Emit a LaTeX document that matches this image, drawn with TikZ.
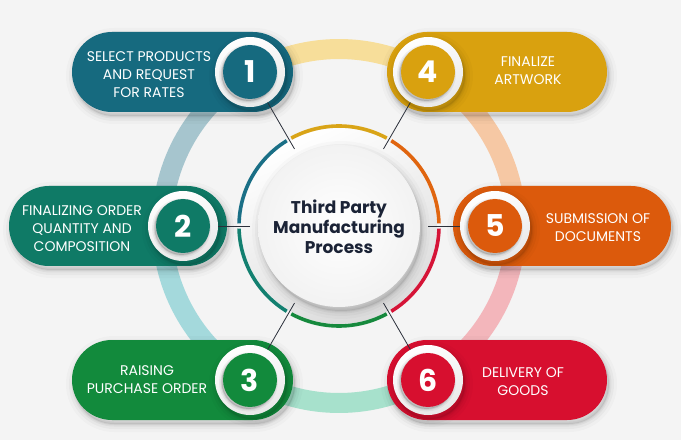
\documentclass[tikz,border=0pt]{standalone}
\usepackage{fontspec}
\setmainfont{Poppins}
\usetikzlibrary{shapes.misc}
\definecolor{bg}{HTML}{F4F4F4}
\definecolor{cA}{HTML}{166A7F}
\definecolor{cB}{HTML}{0F7A66}
\definecolor{cC}{HTML}{128A3C}
\definecolor{cD}{HTML}{D9A10F}
\definecolor{cE}{HTML}{DC5A0C}
\definecolor{cF}{HTML}{D70F2F}
\definecolor{rA}{HTML}{1A6F86}
\definecolor{rB}{HTML}{138070}
\definecolor{rC}{HTML}{16893D}
\definecolor{rD}{HTML}{D9A417}
\definecolor{rE}{HTML}{E0650F}
\definecolor{rF}{HTML}{D51437}
\definecolor{pYel}{HTML}{F7DE9A}
\definecolor{pPch}{HTML}{F6C8A4}
\definecolor{pPnk}{HTML}{F3B6BB}
\definecolor{pMnt}{HTML}{A7E1CC}
\definecolor{pCyn}{HTML}{A4D9DC}
\definecolor{pBlu}{HTML}{A6C5CE}
\definecolor{ink}{HTML}{1B2336}
\definecolor{lin}{HTML}{2A2F3A}
\tikzset{
  softshadow/.style={
    preaction={draw=black,draw opacity=.02,line width=16pt,transform canvas={xshift=2pt,yshift=-4pt}},
    preaction={draw=black,draw opacity=.03,line width=10pt,transform canvas={xshift=2pt,yshift=-4pt}},
    preaction={draw=black,draw opacity=.04,line width=5pt,transform canvas={xshift=2pt,yshift=-4pt}},
    preaction={fill=black,fill opacity=.08,draw=black,draw opacity=.05,line width=2pt,transform canvas={xshift=2pt,yshift=-4pt}}},
  smallshadow/.style={
    preaction={draw=black,draw opacity=.05,line width=5pt,transform canvas={xshift=-1.5pt,yshift=-2pt}},
    preaction={fill=black,fill opacity=.15,draw=black,draw opacity=.08,line width=2pt,transform canvas={xshift=-1.5pt,yshift=-2pt}}},
  pill/.style={rounded rectangle, minimum height=80pt, inner sep=0pt, softshadow},
  whitering/.style={circle, minimum size=70pt, inner sep=0pt, softshadow, top color=white, bottom color=gray!18, shading angle=20},
  numdisc/.style={circle, minimum size=54pt, inner sep=0pt, smallshadow, text=white, font=\bfseries\fontsize{30}{30}\selectfont},
  pilltext/.style={text=white, align=center, font=\fontsize{14}{18}\selectfont},
  ringseg/.style={line width=20pt},
  colseg/.style={line width=3.6pt},
  conn/.style={draw=lin, line width=0.8pt}
}
\begin{document}
\begin{tikzpicture}[x=1pt,y=1pt]
\useasboundingbox (0,0) rectangle (681,440);
\fill[bg] (0,0) rectangle (681,440);
\coordinate (c) at (339,214);
% pastel outer ring
\foreach \a/\col in {60/pYel,0/pPch,-60/pPnk,-120/pMnt,-180/pCyn,-240/pBlu}
  \draw[ringseg,\col] (c) ++(\a:177) arc[start angle=\a, end angle=\a+60.5, radius=177];
% center backdrop
\shade[top color=white, bottom color=gray!28, shading angle=25] (c) circle (98);
% coloured ring segments
\foreach \a/\col in {61.5/rD,1.5/rE,-58.5/rF,-118.5/rC,-178.5/rB,-238.5/rA}
  \draw[colseg,\col] (c) ++(\a:100) arc[start angle=\a, end angle=\a+57, radius=100];
% ring connection points
\foreach \a/\n in {120/1,180/2,240/3,60/4,0/5,300/6}
  \path (c) ++(\a:89) coordinate (r\n);
% pills
\node[pill, fill=cA, minimum width=221pt] (p1) at (182.5,368) {};
\node[pill, fill=cD, minimum width=220pt] (p4) at (497,368) {};
\node[pill, fill=cB, minimum width=218pt] (p2) at (118,214) {};
\node[pill, fill=cE, minimum width=218pt] (p5) at (562,214) {};
\node[pill, fill=cC, minimum width=221pt] (p3) at (182.5,60) {};
\node[pill, fill=cF, minimum width=220pt] (p6) at (497,60) {};
% number rings
\node[whitering] (w1) at (250,368) {};
\node[whitering] (w4) at (428,368) {};
\node[whitering] (w2) at (183,214) {};
\node[whitering] (w5) at (495,214) {};
\node[whitering] (w3) at (250,60) {};
\node[whitering] (w6) at (428,60) {};
% connectors
\foreach \n in {1,...,6} \draw[conn] (r\n) -- (w\n);
% central disc
\node[circle, minimum size=162pt, inner sep=0pt, softshadow, inner color=white, outer color=gray!10] (hub) at (c) {};
\node[text=ink, align=center, font=\bfseries\fontsize{17}{20}\selectfont] (title) at (339,213) {Third Party\\Manufacturing\\Process};
% number discs
\node[numdisc, fill=cA] (n1) at (w1) {1};
\node[numdisc, fill=cD] (n4) at (w4) {4};
\node[numdisc, fill=cB] (n2) at (w2) {2};
\node[numdisc, fill=cE] (n5) at (w5) {5};
\node[numdisc, fill=cC] (n3) at (w3) {3};
\node[numdisc, fill=cF] (n6) at (w6) {6};
% texts
\node[pilltext] (t1) at (149,365) {SELECT PRODUCTS\\AND REQUEST\\FOR RATES};
\node[pilltext] (t4) at (528,369) {FINALIZE\\ARTWORK};
\node[pilltext] (t2) at (82,211) {FINALIZING ORDER\\QUANTITY AND\\COMPOSITION};
\node[pilltext] (t5) at (598,212) {SUBMISSION OF\\DOCUMENTS};
\node[pilltext] (t3) at (147,60) {RAISING\\PURCHASE ORDER};
\node[pilltext] (t6) at (523,58) {DELIVERY OF\\GOODS};
\end{tikzpicture}
\end{document}
